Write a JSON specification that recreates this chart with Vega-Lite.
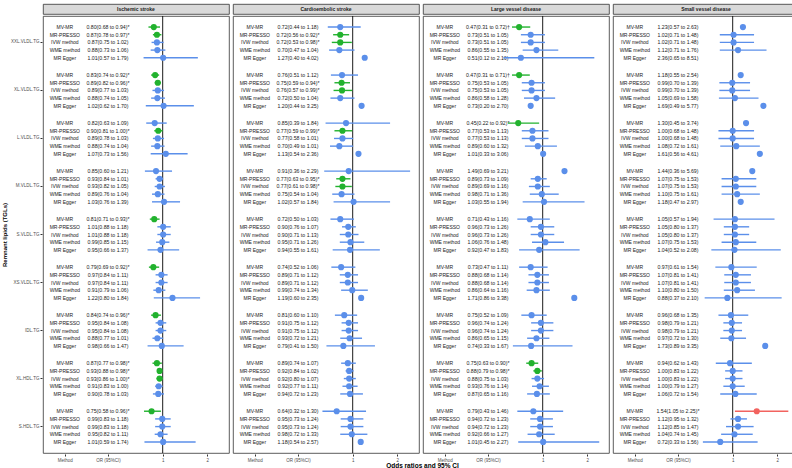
{
"$schema": "https://vega.github.io/schema/vega-lite/v6.json",
"background": "white",
"padding": {"left": 1, "top": 3, "right": 0, "bottom": 0},
"title": {"text": "Odds ratios and 95% CI", "orient": "bottom", "anchor": "middle", "fontSize": 6.5, "fontWeight": "bold", "color": "black", "offset": 1, "dx": 22, "font": "Liberation Sans"},
"config": {
  "font": "Liberation Sans",
  "view": {"stroke": "#333333", "strokeWidth": 0.8},
  "concat": {"spacing": 0},
  "axis": {"grid": false, "domain": false, "labelFontSize": 4.5, "labelColor": "#4D4D4D", "tickColor": "#333333", "tickSize": 2, "labelPadding": 1, "titleFontSize": 6, "titleFontWeight": "bold", "titleColor": "black"}
},
"datasets": {
"outcomes": [{"o": "Ischemic stroke"}, {"o": "Cardioembolic stroke"}, {"o": "Large vessel disease"}, {"o": "Small vessel disease"}],
"d": [
{"o":"Ischemic stroke","l":"XXL.VLDL.TG","m":"MV-MR","v":0.80,"lo":0.68,"hi":0.94,"t":"0.80(0.68 to 0.94)*","s":"protective"},
{"o":"Ischemic stroke","l":"XXL.VLDL.TG","m":"MR-PRESSO","v":0.87,"lo":0.78,"hi":0.97,"t":"0.87(0.78 to 0.97)*","s":"protective"},
{"o":"Ischemic stroke","l":"XXL.VLDL.TG","m":"IVW method","v":0.87,"lo":0.75,"hi":1.02,"t":"0.87(0.75 to 1.02)","s":"ns"},
{"o":"Ischemic stroke","l":"XXL.VLDL.TG","m":"WME method","v":0.88,"lo":0.73,"hi":1.06,"t":"0.88(0.73 to 1.06)","s":"ns"},
{"o":"Ischemic stroke","l":"XXL.VLDL.TG","m":"MR Egger","v":1.01,"lo":0.57,"hi":1.79,"t":"1.01(0.57 to 1.79)","s":"ns"},
{"o":"Ischemic stroke","l":"XL.VLDL.TG","m":"MV-MR","v":0.83,"lo":0.74,"hi":0.92,"t":"0.83(0.74 to 0.92)*","s":"protective"},
{"o":"Ischemic stroke","l":"XL.VLDL.TG","m":"MR-PRESSO","v":0.89,"lo":0.82,"hi":0.96,"t":"0.89(0.82 to 0.96)*","s":"protective"},
{"o":"Ischemic stroke","l":"XL.VLDL.TG","m":"IVW method","v":0.89,"lo":0.77,"hi":1.03,"t":"0.89(0.77 to 1.03)","s":"ns"},
{"o":"Ischemic stroke","l":"XL.VLDL.TG","m":"WME method","v":0.88,"lo":0.74,"hi":1.05,"t":"0.88(0.74 to 1.05)","s":"ns"},
{"o":"Ischemic stroke","l":"XL.VLDL.TG","m":"MR Egger","v":1.02,"lo":0.62,"hi":1.70,"t":"1.02(0.62 to 1.70)","s":"ns"},
{"o":"Ischemic stroke","l":"L.VLDL.TG","m":"MV-MR","v":0.82,"lo":0.63,"hi":1.09,"t":"0.82(0.63 to 1.09)","s":"ns"},
{"o":"Ischemic stroke","l":"L.VLDL.TG","m":"MR-PRESSO","v":0.90,"lo":0.81,"hi":1.00,"t":"0.90(0.81 to 1.00)*","s":"protective"},
{"o":"Ischemic stroke","l":"L.VLDL.TG","m":"IVW method","v":0.89,"lo":0.78,"hi":1.03,"t":"0.89(0.78 to 1.03)","s":"ns"},
{"o":"Ischemic stroke","l":"L.VLDL.TG","m":"WME method","v":0.88,"lo":0.74,"hi":1.04,"t":"0.88(0.74 to 1.04)","s":"ns"},
{"o":"Ischemic stroke","l":"L.VLDL.TG","m":"MR Egger","v":1.07,"lo":0.73,"hi":1.56,"t":"1.07(0.73 to 1.56)","s":"ns"},
{"o":"Ischemic stroke","l":"M.VLDL.TG","m":"MV-MR","v":0.85,"lo":0.60,"hi":1.21,"t":"0.85(0.60 to 1.21)","s":"ns"},
{"o":"Ischemic stroke","l":"M.VLDL.TG","m":"MR-PRESSO","v":0.93,"lo":0.84,"hi":1.01,"t":"0.93(0.84 to 1.01)","s":"ns"},
{"o":"Ischemic stroke","l":"M.VLDL.TG","m":"IVW method","v":0.93,"lo":0.82,"hi":1.05,"t":"0.93(0.82 to 1.05)","s":"ns"},
{"o":"Ischemic stroke","l":"M.VLDL.TG","m":"WME method","v":0.89,"lo":0.76,"hi":1.04,"t":"0.89(0.76 to 1.04)","s":"ns"},
{"o":"Ischemic stroke","l":"M.VLDL.TG","m":"MR Egger","v":1.03,"lo":0.76,"hi":1.39,"t":"1.03(0.76 to 1.39)","s":"ns"},
{"o":"Ischemic stroke","l":"S.VLDL.TG","m":"MV-MR","v":0.81,"lo":0.71,"hi":0.93,"t":"0.81(0.71 to 0.93)*","s":"protective"},
{"o":"Ischemic stroke","l":"S.VLDL.TG","m":"MR-PRESSO","v":1.01,"lo":0.88,"hi":1.18,"t":"1.01(0.88 to 1.18)","s":"ns"},
{"o":"Ischemic stroke","l":"S.VLDL.TG","m":"IVW method","v":1.01,"lo":0.88,"hi":1.18,"t":"1.01(0.88 to 1.18)","s":"ns"},
{"o":"Ischemic stroke","l":"S.VLDL.TG","m":"WME method","v":0.99,"lo":0.85,"hi":1.15,"t":"0.99(0.85 to 1.15)","s":"ns"},
{"o":"Ischemic stroke","l":"S.VLDL.TG","m":"MR Egger","v":0.95,"lo":0.66,"hi":1.37,"t":"0.95(0.66 to 1.37)","s":"ns"},
{"o":"Ischemic stroke","l":"XS.VLDL.TG","m":"MV-MR","v":0.79,"lo":0.69,"hi":0.92,"t":"0.79(0.69 to 0.92)*","s":"protective"},
{"o":"Ischemic stroke","l":"XS.VLDL.TG","m":"MR-PRESSO","v":0.97,"lo":0.84,"hi":1.11,"t":"0.97(0.84 to 1.11)","s":"ns"},
{"o":"Ischemic stroke","l":"XS.VLDL.TG","m":"IVW method","v":0.97,"lo":0.84,"hi":1.11,"t":"0.97(0.84 to 1.11)","s":"ns"},
{"o":"Ischemic stroke","l":"XS.VLDL.TG","m":"WME method","v":0.91,"lo":0.79,"hi":1.06,"t":"0.91(0.79 to 1.06)","s":"ns"},
{"o":"Ischemic stroke","l":"XS.VLDL.TG","m":"MR Egger","v":1.22,"lo":0.80,"hi":1.84,"t":"1.22(0.80 to 1.84)","s":"ns"},
{"o":"Ischemic stroke","l":"IDL.TG","m":"MV-MR","v":0.84,"lo":0.74,"hi":0.96,"t":"0.84(0.74 to 0.96)*","s":"protective"},
{"o":"Ischemic stroke","l":"IDL.TG","m":"MR-PRESSO","v":0.95,"lo":0.84,"hi":1.08,"t":"0.95(0.84 to 1.08)","s":"ns"},
{"o":"Ischemic stroke","l":"IDL.TG","m":"IVW method","v":0.95,"lo":0.84,"hi":1.08,"t":"0.95(0.84 to 1.08)","s":"ns"},
{"o":"Ischemic stroke","l":"IDL.TG","m":"WME method","v":0.88,"lo":0.77,"hi":1.01,"t":"0.88(0.77 to 1.01)","s":"ns"},
{"o":"Ischemic stroke","l":"IDL.TG","m":"MR Egger","v":0.98,"lo":0.66,"hi":1.47,"t":"0.98(0.66 to 1.47)","s":"ns"},
{"o":"Ischemic stroke","l":"XL.HDL.TG","m":"MV-MR","v":0.87,"lo":0.77,"hi":0.98,"t":"0.87(0.77 to 0.98)*","s":"protective"},
{"o":"Ischemic stroke","l":"XL.HDL.TG","m":"MR-PRESSO","v":0.93,"lo":0.88,"hi":0.98,"t":"0.93(0.88 to 0.98)*","s":"protective"},
{"o":"Ischemic stroke","l":"XL.HDL.TG","m":"IVW method","v":0.93,"lo":0.86,"hi":1.00,"t":"0.93(0.86 to 1.00)*","s":"protective"},
{"o":"Ischemic stroke","l":"XL.HDL.TG","m":"WME method","v":0.91,"lo":0.83,"hi":1.00,"t":"0.91(0.83 to 1.00)","s":"ns"},
{"o":"Ischemic stroke","l":"XL.HDL.TG","m":"MR Egger","v":0.90,"lo":0.78,"hi":1.03,"t":"0.90(0.78 to 1.03)","s":"ns"},
{"o":"Ischemic stroke","l":"S.HDL.TG","m":"MV-MR","v":0.75,"lo":0.58,"hi":0.96,"t":"0.75(0.58 to 0.96)*","s":"protective"},
{"o":"Ischemic stroke","l":"S.HDL.TG","m":"MR-PRESSO","v":0.99,"lo":0.83,"hi":1.18,"t":"0.99(0.83 to 1.18)","s":"ns"},
{"o":"Ischemic stroke","l":"S.HDL.TG","m":"IVW method","v":0.99,"lo":0.83,"hi":1.18,"t":"0.99(0.83 to 1.18)","s":"ns"},
{"o":"Ischemic stroke","l":"S.HDL.TG","m":"WME method","v":0.95,"lo":0.82,"hi":1.11,"t":"0.95(0.82 to 1.11)","s":"ns"},
{"o":"Ischemic stroke","l":"S.HDL.TG","m":"MR Egger","v":1.01,"lo":0.59,"hi":1.74,"t":"1.01(0.59 to 1.74)","s":"ns"},
{"o":"Cardioembolic stroke","l":"XXL.VLDL.TG","m":"MV-MR","v":0.72,"lo":0.44,"hi":1.18,"t":"0.72(0.44 to 1.18)","s":"ns"},
{"o":"Cardioembolic stroke","l":"XXL.VLDL.TG","m":"MR-PRESSO","v":0.72,"lo":0.56,"hi":0.92,"t":"0.72(0.56 to 0.92)*","s":"protective"},
{"o":"Cardioembolic stroke","l":"XXL.VLDL.TG","m":"IVW method","v":0.72,"lo":0.53,"hi":0.98,"t":"0.72(0.53 to 0.98)*","s":"protective"},
{"o":"Cardioembolic stroke","l":"XXL.VLDL.TG","m":"WME method","v":0.70,"lo":0.47,"hi":1.04,"t":"0.70(0.47 to 1.04)","s":"ns"},
{"o":"Cardioembolic stroke","l":"XXL.VLDL.TG","m":"MR Egger","v":1.27,"lo":0.40,"hi":4.02,"t":"1.27(0.40 to 4.02)","s":"ns"},
{"o":"Cardioembolic stroke","l":"XL.VLDL.TG","m":"MV-MR","v":0.76,"lo":0.51,"hi":1.12,"t":"0.76(0.51 to 1.12)","s":"ns"},
{"o":"Cardioembolic stroke","l":"XL.VLDL.TG","m":"MR-PRESSO","v":0.75,"lo":0.59,"hi":0.94,"t":"0.75(0.59 to 0.94)*","s":"protective"},
{"o":"Cardioembolic stroke","l":"XL.VLDL.TG","m":"IVW method","v":0.76,"lo":0.57,"hi":0.99,"t":"0.76(0.57 to 0.99)*","s":"protective"},
{"o":"Cardioembolic stroke","l":"XL.VLDL.TG","m":"WME method","v":0.72,"lo":0.50,"hi":1.04,"t":"0.72(0.50 to 1.04)","s":"ns"},
{"o":"Cardioembolic stroke","l":"XL.VLDL.TG","m":"MR Egger","v":1.20,"lo":0.44,"hi":3.25,"t":"1.20(0.44 to 3.25)","s":"ns"},
{"o":"Cardioembolic stroke","l":"L.VLDL.TG","m":"MV-MR","v":0.85,"lo":0.39,"hi":1.84,"t":"0.85(0.39 to 1.84)","s":"ns"},
{"o":"Cardioembolic stroke","l":"L.VLDL.TG","m":"MR-PRESSO","v":0.77,"lo":0.59,"hi":0.99,"t":"0.77(0.59 to 0.99)*","s":"protective"},
{"o":"Cardioembolic stroke","l":"L.VLDL.TG","m":"IVW method","v":0.77,"lo":0.58,"hi":1.01,"t":"0.77(0.58 to 1.01)","s":"ns"},
{"o":"Cardioembolic stroke","l":"L.VLDL.TG","m":"WME method","v":0.70,"lo":0.49,"hi":1.01,"t":"0.70(0.49 to 1.01)","s":"ns"},
{"o":"Cardioembolic stroke","l":"L.VLDL.TG","m":"MR Egger","v":1.13,"lo":0.54,"hi":2.36,"t":"1.13(0.54 to 2.36)","s":"ns"},
{"o":"Cardioembolic stroke","l":"M.VLDL.TG","m":"MV-MR","v":0.91,"lo":0.36,"hi":2.29,"t":"0.91(0.36 to 2.29)","s":"ns"},
{"o":"Cardioembolic stroke","l":"M.VLDL.TG","m":"MR-PRESSO","v":0.77,"lo":0.63,"hi":0.95,"t":"0.77(0.63 to 0.95)*","s":"protective"},
{"o":"Cardioembolic stroke","l":"M.VLDL.TG","m":"IVW method","v":0.77,"lo":0.61,"hi":0.98,"t":"0.77(0.61 to 0.98)*","s":"protective"},
{"o":"Cardioembolic stroke","l":"M.VLDL.TG","m":"WME method","v":0.75,"lo":0.54,"hi":1.04,"t":"0.75(0.54 to 1.04)","s":"ns"},
{"o":"Cardioembolic stroke","l":"M.VLDL.TG","m":"MR Egger","v":1.02,"lo":0.57,"hi":1.84,"t":"1.02(0.57 to 1.84)","s":"ns"},
{"o":"Cardioembolic stroke","l":"S.VLDL.TG","m":"MV-MR","v":0.72,"lo":0.50,"hi":1.03,"t":"0.72(0.50 to 1.03)","s":"ns"},
{"o":"Cardioembolic stroke","l":"S.VLDL.TG","m":"MR-PRESSO","v":0.90,"lo":0.76,"hi":1.07,"t":"0.90(0.76 to 1.07)","s":"ns"},
{"o":"Cardioembolic stroke","l":"S.VLDL.TG","m":"IVW method","v":0.90,"lo":0.71,"hi":1.13,"t":"0.90(0.71 to 1.13)","s":"ns"},
{"o":"Cardioembolic stroke","l":"S.VLDL.TG","m":"WME method","v":0.95,"lo":0.71,"hi":1.26,"t":"0.95(0.71 to 1.26)","s":"ns"},
{"o":"Cardioembolic stroke","l":"S.VLDL.TG","m":"MR Egger","v":0.94,"lo":0.55,"hi":1.61,"t":"0.94(0.55 to 1.61)","s":"ns"},
{"o":"Cardioembolic stroke","l":"XS.VLDL.TG","m":"MV-MR","v":0.74,"lo":0.52,"hi":1.06,"t":"0.74(0.52 to 1.06)","s":"ns"},
{"o":"Cardioembolic stroke","l":"XS.VLDL.TG","m":"MR-PRESSO","v":0.89,"lo":0.71,"hi":1.12,"t":"0.89(0.71 to 1.12)","s":"ns"},
{"o":"Cardioembolic stroke","l":"XS.VLDL.TG","m":"IVW method","v":0.89,"lo":0.71,"hi":1.12,"t":"0.89(0.71 to 1.12)","s":"ns"},
{"o":"Cardioembolic stroke","l":"XS.VLDL.TG","m":"WME method","v":0.99,"lo":0.74,"hi":1.34,"t":"0.99(0.74 to 1.34)","s":"ns"},
{"o":"Cardioembolic stroke","l":"XS.VLDL.TG","m":"MR Egger","v":1.19,"lo":0.60,"hi":2.35,"t":"1.19(0.60 to 2.35)","s":"ns"},
{"o":"Cardioembolic stroke","l":"IDL.TG","m":"MV-MR","v":0.81,"lo":0.60,"hi":1.10,"t":"0.81(0.60 to 1.10)","s":"ns"},
{"o":"Cardioembolic stroke","l":"IDL.TG","m":"MR-PRESSO","v":0.91,"lo":0.75,"hi":1.12,"t":"0.91(0.75 to 1.12)","s":"ns"},
{"o":"Cardioembolic stroke","l":"IDL.TG","m":"IVW method","v":0.91,"lo":0.75,"hi":1.12,"t":"0.91(0.75 to 1.12)","s":"ns"},
{"o":"Cardioembolic stroke","l":"IDL.TG","m":"WME method","v":0.93,"lo":0.72,"hi":1.21,"t":"0.93(0.72 to 1.21)","s":"ns"},
{"o":"Cardioembolic stroke","l":"IDL.TG","m":"MR Egger","v":0.79,"lo":0.41,"hi":1.50,"t":"0.79(0.41 to 1.50)","s":"ns"},
{"o":"Cardioembolic stroke","l":"XL.HDL.TG","m":"MV-MR","v":0.89,"lo":0.74,"hi":1.07,"t":"0.89(0.74 to 1.07)","s":"ns"},
{"o":"Cardioembolic stroke","l":"XL.HDL.TG","m":"MR-PRESSO","v":0.92,"lo":0.84,"hi":1.02,"t":"0.92(0.84 to 1.02)","s":"ns"},
{"o":"Cardioembolic stroke","l":"XL.HDL.TG","m":"IVW method","v":0.92,"lo":0.80,"hi":1.07,"t":"0.92(0.80 to 1.07)","s":"ns"},
{"o":"Cardioembolic stroke","l":"XL.HDL.TG","m":"WME method","v":0.92,"lo":0.77,"hi":1.11,"t":"0.92(0.77 to 1.11)","s":"ns"},
{"o":"Cardioembolic stroke","l":"XL.HDL.TG","m":"MR Egger","v":0.94,"lo":0.72,"hi":1.23,"t":"0.94(0.72 to 1.23)","s":"ns"},
{"o":"Cardioembolic stroke","l":"S.HDL.TG","m":"MV-MR","v":0.64,"lo":0.32,"hi":1.30,"t":"0.64(0.32 to 1.30)","s":"ns"},
{"o":"Cardioembolic stroke","l":"S.HDL.TG","m":"MR-PRESSO","v":0.95,"lo":0.73,"hi":1.24,"t":"0.95(0.73 to 1.24)","s":"ns"},
{"o":"Cardioembolic stroke","l":"S.HDL.TG","m":"IVW method","v":0.95,"lo":0.73,"hi":1.24,"t":"0.95(0.73 to 1.24)","s":"ns"},
{"o":"Cardioembolic stroke","l":"S.HDL.TG","m":"WME method","v":0.98,"lo":0.72,"hi":1.33,"t":"0.98(0.72 to 1.33)","s":"ns"},
{"o":"Cardioembolic stroke","l":"S.HDL.TG","m":"MR Egger","v":1.18,"lo":0.54,"hi":2.57,"t":"1.18(0.54 to 2.57)","s":"ns"},
{"o":"Large vessel disease","l":"XXL.VLDL.TG","m":"MV-MR","v":0.47,"lo":0.31,"hi":0.72,"t":"0.47(0.31 to 0.72)†","s":"protective"},
{"o":"Large vessel disease","l":"XXL.VLDL.TG","m":"MR-PRESSO","v":0.73,"lo":0.51,"hi":1.05,"t":"0.73(0.51 to 1.05)","s":"ns"},
{"o":"Large vessel disease","l":"XXL.VLDL.TG","m":"IVW method","v":0.73,"lo":0.51,"hi":1.05,"t":"0.73(0.51 to 1.05)","s":"ns"},
{"o":"Large vessel disease","l":"XXL.VLDL.TG","m":"WME method","v":0.86,"lo":0.55,"hi":1.35,"t":"0.86(0.55 to 1.35)","s":"ns"},
{"o":"Large vessel disease","l":"XXL.VLDL.TG","m":"MR Egger","v":0.51,"lo":0.12,"hi":2.16,"t":"0.51(0.12 to 2.16)","s":"ns"},
{"o":"Large vessel disease","l":"XL.VLDL.TG","m":"MV-MR","v":0.47,"lo":0.31,"hi":0.71,"t":"0.47(0.31 to 0.71)†","s":"protective"},
{"o":"Large vessel disease","l":"XL.VLDL.TG","m":"MR-PRESSO","v":0.75,"lo":0.53,"hi":1.05,"t":"0.75(0.53 to 1.05)","s":"ns"},
{"o":"Large vessel disease","l":"XL.VLDL.TG","m":"IVW method","v":0.75,"lo":0.53,"hi":1.05,"t":"0.75(0.53 to 1.05)","s":"ns"},
{"o":"Large vessel disease","l":"XL.VLDL.TG","m":"WME method","v":0.86,"lo":0.58,"hi":1.28,"t":"0.86(0.58 to 1.28)","s":"ns"},
{"o":"Large vessel disease","l":"XL.VLDL.TG","m":"MR Egger","v":0.73,"lo":0.20,"hi":2.70,"t":"0.73(0.20 to 2.70)","s":"ns"},
{"o":"Large vessel disease","l":"L.VLDL.TG","m":"MV-MR","v":0.45,"lo":0.22,"hi":0.92,"t":"0.45(0.22 to 0.92)*","s":"protective"},
{"o":"Large vessel disease","l":"L.VLDL.TG","m":"MR-PRESSO","v":0.77,"lo":0.53,"hi":1.13,"t":"0.77(0.53 to 1.13)","s":"ns"},
{"o":"Large vessel disease","l":"L.VLDL.TG","m":"IVW method","v":0.77,"lo":0.53,"hi":1.13,"t":"0.77(0.53 to 1.13)","s":"ns"},
{"o":"Large vessel disease","l":"L.VLDL.TG","m":"WME method","v":0.89,"lo":0.60,"hi":1.32,"t":"0.89(0.60 to 1.32)","s":"ns"},
{"o":"Large vessel disease","l":"L.VLDL.TG","m":"MR Egger","v":1.01,"lo":0.33,"hi":3.06,"t":"1.01(0.33 to 3.06)","s":"ns"},
{"o":"Large vessel disease","l":"M.VLDL.TG","m":"MV-MR","v":1.49,"lo":0.69,"hi":3.21,"t":"1.49(0.69 to 3.21)","s":"ns"},
{"o":"Large vessel disease","l":"M.VLDL.TG","m":"MR-PRESSO","v":0.89,"lo":0.73,"hi":1.09,"t":"0.89(0.73 to 1.09)","s":"ns"},
{"o":"Large vessel disease","l":"M.VLDL.TG","m":"IVW method","v":0.89,"lo":0.69,"hi":1.16,"t":"0.89(0.69 to 1.16)","s":"ns"},
{"o":"Large vessel disease","l":"M.VLDL.TG","m":"WME method","v":0.98,"lo":0.71,"hi":1.36,"t":"0.98(0.71 to 1.36)","s":"ns"},
{"o":"Large vessel disease","l":"M.VLDL.TG","m":"MR Egger","v":1.03,"lo":0.55,"hi":1.94,"t":"1.03(0.55 to 1.94)","s":"ns"},
{"o":"Large vessel disease","l":"S.VLDL.TG","m":"MV-MR","v":0.71,"lo":0.43,"hi":1.16,"t":"0.71(0.43 to 1.16)","s":"ns"},
{"o":"Large vessel disease","l":"S.VLDL.TG","m":"MR-PRESSO","v":0.96,"lo":0.73,"hi":1.26,"t":"0.96(0.73 to 1.26)","s":"ns"},
{"o":"Large vessel disease","l":"S.VLDL.TG","m":"IVW method","v":0.96,"lo":0.73,"hi":1.26,"t":"0.96(0.73 to 1.26)","s":"ns"},
{"o":"Large vessel disease","l":"S.VLDL.TG","m":"WME method","v":1.06,"lo":0.76,"hi":1.48,"t":"1.06(0.76 to 1.48)","s":"ns"},
{"o":"Large vessel disease","l":"S.VLDL.TG","m":"MR Egger","v":0.92,"lo":0.47,"hi":1.83,"t":"0.92(0.47 to 1.83)","s":"ns"},
{"o":"Large vessel disease","l":"XS.VLDL.TG","m":"MV-MR","v":0.73,"lo":0.47,"hi":1.11,"t":"0.73(0.47 to 1.11)","s":"ns"},
{"o":"Large vessel disease","l":"XS.VLDL.TG","m":"MR-PRESSO","v":0.88,"lo":0.68,"hi":1.14,"t":"0.88(0.68 to 1.14)","s":"ns"},
{"o":"Large vessel disease","l":"XS.VLDL.TG","m":"IVW method","v":0.88,"lo":0.68,"hi":1.14,"t":"0.88(0.68 to 1.14)","s":"ns"},
{"o":"Large vessel disease","l":"XS.VLDL.TG","m":"WME method","v":0.86,"lo":0.64,"hi":1.16,"t":"0.86(0.64 to 1.16)","s":"ns"},
{"o":"Large vessel disease","l":"XS.VLDL.TG","m":"MR Egger","v":1.71,"lo":0.86,"hi":3.38,"t":"1.71(0.86 to 3.38)","s":"ns"},
{"o":"Large vessel disease","l":"IDL.TG","m":"MV-MR","v":0.75,"lo":0.52,"hi":1.09,"t":"0.75(0.52 to 1.09)","s":"ns"},
{"o":"Large vessel disease","l":"IDL.TG","m":"MR-PRESSO","v":0.96,"lo":0.74,"hi":1.24,"t":"0.96(0.74 to 1.24)","s":"ns"},
{"o":"Large vessel disease","l":"IDL.TG","m":"IVW method","v":0.96,"lo":0.74,"hi":1.24,"t":"0.96(0.74 to 1.24)","s":"ns"},
{"o":"Large vessel disease","l":"IDL.TG","m":"WME method","v":0.86,"lo":0.65,"hi":1.15,"t":"0.86(0.65 to 1.15)","s":"ns"},
{"o":"Large vessel disease","l":"IDL.TG","m":"MR Egger","v":0.74,"lo":0.33,"hi":1.67,"t":"0.74(0.33 to 1.67)","s":"ns"},
{"o":"Large vessel disease","l":"XL.HDL.TG","m":"MV-MR","v":0.75,"lo":0.63,"hi":0.90,"t":"0.75(0.63 to 0.90)*","s":"protective"},
{"o":"Large vessel disease","l":"XL.HDL.TG","m":"MR-PRESSO","v":0.88,"lo":0.79,"hi":0.98,"t":"0.88(0.79 to 0.98)*","s":"protective"},
{"o":"Large vessel disease","l":"XL.HDL.TG","m":"IVW method","v":0.88,"lo":0.75,"hi":1.03,"t":"0.88(0.75 to 1.03)","s":"ns"},
{"o":"Large vessel disease","l":"XL.HDL.TG","m":"WME method","v":0.93,"lo":0.76,"hi":1.14,"t":"0.93(0.76 to 1.14)","s":"ns"},
{"o":"Large vessel disease","l":"XL.HDL.TG","m":"MR Egger","v":0.87,"lo":0.65,"hi":1.16,"t":"0.87(0.65 to 1.16)","s":"ns"},
{"o":"Large vessel disease","l":"S.HDL.TG","m":"MV-MR","v":0.79,"lo":0.43,"hi":1.46,"t":"0.79(0.43 to 1.46)","s":"ns"},
{"o":"Large vessel disease","l":"S.HDL.TG","m":"MR-PRESSO","v":0.94,"lo":0.72,"hi":1.23,"t":"0.94(0.72 to 1.23)","s":"ns"},
{"o":"Large vessel disease","l":"S.HDL.TG","m":"IVW method","v":0.94,"lo":0.72,"hi":1.23,"t":"0.94(0.72 to 1.23)","s":"ns"},
{"o":"Large vessel disease","l":"S.HDL.TG","m":"WME method","v":0.92,"lo":0.66,"hi":1.27,"t":"0.92(0.66 to 1.27)","s":"ns"},
{"o":"Large vessel disease","l":"S.HDL.TG","m":"MR Egger","v":1.01,"lo":0.45,"hi":2.27,"t":"1.01(0.45 to 2.27)","s":"ns"},
{"o":"Small vessel disease","l":"XXL.VLDL.TG","m":"MV-MR","v":1.23,"lo":0.57,"hi":2.63,"t":"1.23(0.57 to 2.63)","s":"ns"},
{"o":"Small vessel disease","l":"XXL.VLDL.TG","m":"MR-PRESSO","v":1.02,"lo":0.71,"hi":1.48,"t":"1.02(0.71 to 1.48)","s":"ns"},
{"o":"Small vessel disease","l":"XXL.VLDL.TG","m":"IVW method","v":1.02,"lo":0.71,"hi":1.48,"t":"1.02(0.71 to 1.48)","s":"ns"},
{"o":"Small vessel disease","l":"XXL.VLDL.TG","m":"WME method","v":1.12,"lo":0.71,"hi":1.76,"t":"1.12(0.71 to 1.76)","s":"ns"},
{"o":"Small vessel disease","l":"XXL.VLDL.TG","m":"MR Egger","v":2.36,"lo":0.65,"hi":8.51,"t":"2.36(0.65 to 8.51)","s":"ns"},
{"o":"Small vessel disease","l":"XL.VLDL.TG","m":"MV-MR","v":1.18,"lo":0.55,"hi":2.54,"t":"1.18(0.55 to 2.54)","s":"ns"},
{"o":"Small vessel disease","l":"XL.VLDL.TG","m":"MR-PRESSO","v":0.99,"lo":0.70,"hi":1.39,"t":"0.99(0.70 to 1.39)","s":"ns"},
{"o":"Small vessel disease","l":"XL.VLDL.TG","m":"IVW method","v":0.99,"lo":0.70,"hi":1.39,"t":"0.99(0.70 to 1.39)","s":"ns"},
{"o":"Small vessel disease","l":"XL.VLDL.TG","m":"WME method","v":1.05,"lo":0.69,"hi":1.58,"t":"1.05(0.69 to 1.58)","s":"ns"},
{"o":"Small vessel disease","l":"XL.VLDL.TG","m":"MR Egger","v":1.69,"lo":0.49,"hi":5.77,"t":"1.69(0.49 to 5.77)","s":"ns"},
{"o":"Small vessel disease","l":"L.VLDL.TG","m":"MV-MR","v":1.30,"lo":0.45,"hi":3.74,"t":"1.30(0.45 to 3.74)","s":"ns"},
{"o":"Small vessel disease","l":"L.VLDL.TG","m":"MR-PRESSO","v":1.00,"lo":0.68,"hi":1.48,"t":"1.00(0.68 to 1.48)","s":"ns"},
{"o":"Small vessel disease","l":"L.VLDL.TG","m":"IVW method","v":1.00,"lo":0.68,"hi":1.48,"t":"1.00(0.68 to 1.48)","s":"ns"},
{"o":"Small vessel disease","l":"L.VLDL.TG","m":"WME method","v":1.08,"lo":0.72,"hi":1.61,"t":"1.08(0.72 to 1.61)","s":"ns"},
{"o":"Small vessel disease","l":"L.VLDL.TG","m":"MR Egger","v":1.61,"lo":0.56,"hi":4.61,"t":"1.61(0.56 to 4.61)","s":"ns"},
{"o":"Small vessel disease","l":"M.VLDL.TG","m":"MV-MR","v":1.44,"lo":0.36,"hi":5.69,"t":"1.44(0.36 to 5.69)","s":"ns"},
{"o":"Small vessel disease","l":"M.VLDL.TG","m":"MR-PRESSO","v":1.07,"lo":0.75,"hi":1.53,"t":"1.07(0.75 to 1.53)","s":"ns"},
{"o":"Small vessel disease","l":"M.VLDL.TG","m":"IVW method","v":1.07,"lo":0.75,"hi":1.53,"t":"1.07(0.75 to 1.53)","s":"ns"},
{"o":"Small vessel disease","l":"M.VLDL.TG","m":"WME method","v":1.10,"lo":0.75,"hi":1.61,"t":"1.10(0.75 to 1.61)","s":"ns"},
{"o":"Small vessel disease","l":"M.VLDL.TG","m":"MR Egger","v":1.18,"lo":0.47,"hi":2.97,"t":"1.18(0.47 to 2.97)","s":"ns"},
{"o":"Small vessel disease","l":"S.VLDL.TG","m":"MV-MR","v":1.05,"lo":0.57,"hi":1.94,"t":"1.05(0.57 to 1.94)","s":"ns"},
{"o":"Small vessel disease","l":"S.VLDL.TG","m":"MR-PRESSO","v":1.05,"lo":0.80,"hi":1.37,"t":"1.05(0.80 to 1.37)","s":"ns"},
{"o":"Small vessel disease","l":"S.VLDL.TG","m":"IVW method","v":1.05,"lo":0.80,"hi":1.37,"t":"1.05(0.80 to 1.37)","s":"ns"},
{"o":"Small vessel disease","l":"S.VLDL.TG","m":"WME method","v":1.07,"lo":0.75,"hi":1.53,"t":"1.07(0.75 to 1.53)","s":"ns"},
{"o":"Small vessel disease","l":"S.VLDL.TG","m":"MR Egger","v":1.04,"lo":0.52,"hi":2.08,"t":"1.04(0.52 to 2.08)","s":"ns"},
{"o":"Small vessel disease","l":"XS.VLDL.TG","m":"MV-MR","v":0.97,"lo":0.61,"hi":1.54,"t":"0.97(0.61 to 1.54)","s":"ns"},
{"o":"Small vessel disease","l":"XS.VLDL.TG","m":"MR-PRESSO","v":1.07,"lo":0.81,"hi":1.41,"t":"1.07(0.81 to 1.41)","s":"ns"},
{"o":"Small vessel disease","l":"XS.VLDL.TG","m":"IVW method","v":1.07,"lo":0.81,"hi":1.41,"t":"1.07(0.81 to 1.41)","s":"ns"},
{"o":"Small vessel disease","l":"XS.VLDL.TG","m":"WME method","v":1.10,"lo":0.80,"hi":1.50,"t":"1.10(0.80 to 1.50)","s":"ns"},
{"o":"Small vessel disease","l":"XS.VLDL.TG","m":"MR Egger","v":0.88,"lo":0.37,"hi":2.10,"t":"0.88(0.37 to 2.10)","s":"ns"},
{"o":"Small vessel disease","l":"IDL.TG","m":"MV-MR","v":0.96,"lo":0.68,"hi":1.35,"t":"0.96(0.68 to 1.35)","s":"ns"},
{"o":"Small vessel disease","l":"IDL.TG","m":"MR-PRESSO","v":0.98,"lo":0.79,"hi":1.21,"t":"0.98(0.79 to 1.21)","s":"ns"},
{"o":"Small vessel disease","l":"IDL.TG","m":"IVW method","v":0.98,"lo":0.79,"hi":1.21,"t":"0.98(0.79 to 1.21)","s":"ns"},
{"o":"Small vessel disease","l":"IDL.TG","m":"WME method","v":0.97,"lo":0.72,"hi":1.30,"t":"0.97(0.72 to 1.30)","s":"ns"},
{"o":"Small vessel disease","l":"IDL.TG","m":"MR Egger","v":1.73,"lo":0.89,"hi":3.35,"t":"1.73(0.89 to 3.35)","s":"ns"},
{"o":"Small vessel disease","l":"XL.HDL.TG","m":"MV-MR","v":0.94,"lo":0.62,"hi":1.43,"t":"0.94(0.62 to 1.43)","s":"ns"},
{"o":"Small vessel disease","l":"XL.HDL.TG","m":"MR-PRESSO","v":1.00,"lo":0.83,"hi":1.22,"t":"1.00(0.83 to 1.22)","s":"ns"},
{"o":"Small vessel disease","l":"XL.HDL.TG","m":"IVW method","v":1.00,"lo":0.83,"hi":1.22,"t":"1.00(0.83 to 1.22)","s":"ns"},
{"o":"Small vessel disease","l":"XL.HDL.TG","m":"WME method","v":1.00,"lo":0.79,"hi":1.27,"t":"1.00(0.79 to 1.27)","s":"ns"},
{"o":"Small vessel disease","l":"XL.HDL.TG","m":"MR Egger","v":1.06,"lo":0.72,"hi":1.54,"t":"1.06(0.72 to 1.54)","s":"ns"},
{"o":"Small vessel disease","l":"S.HDL.TG","m":"MV-MR","v":1.54,"lo":1.05,"hi":2.25,"t":"1.54(1.05 to 2.25)*","s":"risk"},
{"o":"Small vessel disease","l":"S.HDL.TG","m":"MR-PRESSO","v":1.12,"lo":0.95,"hi":1.32,"t":"1.12(0.95 to 1.32)","s":"ns"},
{"o":"Small vessel disease","l":"S.HDL.TG","m":"IVW method","v":1.12,"lo":0.85,"hi":1.47,"t":"1.12(0.85 to 1.47)","s":"ns"},
{"o":"Small vessel disease","l":"S.HDL.TG","m":"WME method","v":1.04,"lo":0.74,"hi":1.45,"t":"1.04(0.74 to 1.45)","s":"ns"},
{"o":"Small vessel disease","l":"S.HDL.TG","m":"MR Egger","v":0.72,"lo":0.33,"hi":1.56,"t":"0.72(0.33 to 1.56)","s":"ns"}
]
},
"vconcat": [
  {
    "data": {"name": "outcomes"},
    "facet": {"column": {"field": "o", "type": "nominal", "title": null, "header": null, "sort": ["Ischemic stroke", "Cardioembolic stroke", "Large vessel disease", "Small vessel disease"]}},
    "spacing": 2,
    "spec": {
      "width": 186, "height": 10,
      "view": {"fill": "#D9D9D9", "stroke": "#333333", "strokeWidth": 0.8},
      "mark": {"type": "text", "fontWeight": "bold", "fontSize": 5, "color": "#1A1A1A"},
      "encoding": {"text": {"field": "o", "type": "nominal"}}
    }
  },
  {
    "data": {"name": "d"},
    "facet": {"column": {"field": "o", "type": "nominal", "title": null, "header": null, "sort": ["Ischemic stroke", "Cardioembolic stroke", "Large vessel disease", "Small vessel disease"]}},
    "spacing": 2,
    "spec": {
      "width": 186, "height": 437,
      "layer": [
        {
          "transform": [{"filter": "datum.l == 'IDL.TG' && datum.m == 'IVW method'"}],
          "mark": {"type": "rule", "color": "black", "strokeWidth": 0.9},
          "encoding": {
            "x": {"datum": 1, "type": "quantitative", "title": null,
              "scale": {"domain": [-1.69, 2.49], "nice": false, "zero": false},
              "axis": {"values": [-1.2, -0.23, 1, 2], "labelOverlap": false, "title": null,
                "labelExpr": "datum.value < -1 ? 'Method' : (datum.value < 0 ? 'OR (95%CI)' : format(datum.value, 'd'))"}}
          }
        },
        {
          "mark": {"type": "text", "fontSize": 5, "color": "#1A1A1A"},
          "encoding": {
            "x": {"datum": -1.2, "type": "quantitative", "title": null},
            "y": {"field": "l", "type": "nominal", "sort": ["XXL.VLDL.TG","XL.VLDL.TG","L.VLDL.TG","M.VLDL.TG","S.VLDL.TG","XS.VLDL.TG","IDL.TG","XL.HDL.TG","S.HDL.TG"], "scale": {"paddingInner": 0.2, "paddingOuter": 0.15}, "title": "Remnant lipids (TGLs)", "axis": {"titlePadding": 3}},
            "yOffset": {"field": "m", "type": "nominal", "sort": ["MV-MR","MR-PRESSO","IVW method","WME method","MR Egger"]},
            "text": {"field": "m", "type": "nominal"}
          }
        },
        {
          "mark": {"type": "text", "fontSize": 5.2, "color": "#1A1A1A"},
          "encoding": {
            "x": {"datum": -0.23, "type": "quantitative", "title": null},
            "y": {"field": "l", "type": "nominal", "sort": ["XXL.VLDL.TG","XL.VLDL.TG","L.VLDL.TG","M.VLDL.TG","S.VLDL.TG","XS.VLDL.TG","IDL.TG","XL.HDL.TG","S.HDL.TG"]},
            "yOffset": {"field": "m", "type": "nominal", "sort": ["MV-MR","MR-PRESSO","IVW method","WME method","MR Egger"]},
            "text": {"field": "t", "type": "nominal"}
          }
        },
        {
          "transform": [{"filter": "datum.hi <= 2.3"}],
          "mark": {"type": "rule", "strokeWidth": 1.4},
          "encoding": {
            "x": {"field": "lo", "type": "quantitative", "title": null},
            "x2": {"field": "hi"},
            "y": {"field": "l", "type": "nominal", "sort": ["XXL.VLDL.TG","XL.VLDL.TG","L.VLDL.TG","M.VLDL.TG","S.VLDL.TG","XS.VLDL.TG","IDL.TG","XL.HDL.TG","S.HDL.TG"]},
            "yOffset": {"field": "m", "type": "nominal", "sort": ["MV-MR","MR-PRESSO","IVW method","WME method","MR Egger"]},
            "color": {"field": "s", "type": "nominal", "scale": {"domain": ["protective", "ns", "risk"], "range": ["#22B22E", "#5B8FEA", "#F2635F"]}, "legend": null}
          }
        },
        {
          "transform": [{"filter": "datum.v <= 2.3"}],
          "mark": {"type": "circle", "size": 38, "opacity": 1},
          "encoding": {
            "x": {"field": "v", "type": "quantitative", "title": null},
            "y": {"field": "l", "type": "nominal", "sort": ["XXL.VLDL.TG","XL.VLDL.TG","L.VLDL.TG","M.VLDL.TG","S.VLDL.TG","XS.VLDL.TG","IDL.TG","XL.HDL.TG","S.HDL.TG"]},
            "yOffset": {"field": "m", "type": "nominal", "sort": ["MV-MR","MR-PRESSO","IVW method","WME method","MR Egger"]},
            "color": {"field": "s", "type": "nominal", "legend": null}
          }
        }
      ]
    }
  }
]
}
